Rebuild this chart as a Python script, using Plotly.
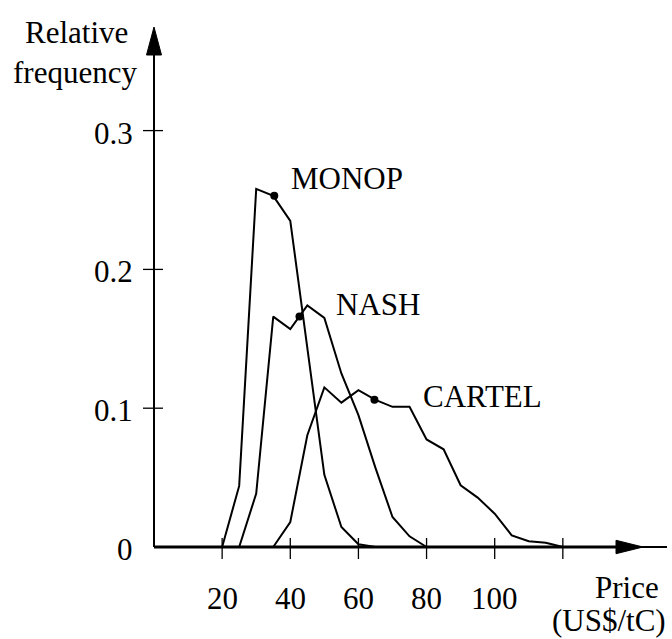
import plotly.graph_objects as go

# ---- data ----
monop_x = [20, 25, 30, 35, 40, 45, 50, 55, 60, 65]
monop_y = [0, 0.044, 0.258, 0.253, 0.235, 0.143, 0.052, 0.0144, 0.002, 0]

nash_x = [25, 30, 35, 40, 45, 50, 55, 60, 65, 70, 75, 80]
nash_y = [0, 0.0385, 0.166, 0.157, 0.174, 0.165, 0.125, 0.095, 0.057, 0.0216, 0.0077, 0]

cartel_x = [35, 40, 45, 50, 55, 60, 65, 70, 75, 80, 85, 90, 95, 100, 105, 110, 115, 120]
cartel_y = [0, 0.018, 0.0805, 0.115, 0.104, 0.113, 0.106, 0.101, 0.101, 0.0775, 0.0704,
            0.0445, 0.0356, 0.024, 0.0084, 0.0041, 0.003, 0]

series_names = ["MONOP", "NASH", "CARTEL"]
dot_x = [35.3, 42.7, 64.7]
dot_y = [0.253, 0.166, 0.106]
label_x = [39.6, 52.8, 78.4]
label_y = [0.2653, 0.1744, 0.1081]

x_ticks = [20, 40, 60, 80, 100, 120]
x_tick_labels = ["20", "40", "60", "80", "100", ""]
y_ticks = [0, 0.1, 0.2, 0.3]
y_tick_labels = ["0", "0.1", "0.2", "0.3"]

FONT = "Liberation Serif, Times New Roman, serif"
FS = 31
W, H = 672, 639
XS = 3.407          # px per x unit
YS = 1388.0         # px per y unit
X0PX, Y0PX = 154.0, 547.0

x_range = [-X0PX / XS, (W - X0PX) / XS]
y_range = [(Y0PX - H) / YS, Y0PX / YS]

def px2x(p):
    return (p - X0PX) / XS

def px2y(p):
    return (Y0PX - p) / YS

fig = go.Figure()

for xs, ys in [(monop_x, monop_y), (nash_x, nash_y), (cartel_x, cartel_y)]:
    fig.add_trace(go.Scatter(x=xs, y=ys, mode="lines",
                             line=dict(color="black", width=2), hoverinfo="skip"))

fig.add_trace(go.Scatter(x=dot_x, y=dot_y, mode="markers",
                         marker=dict(color="black", size=8), hoverinfo="skip"))

shapes = []
# x axis (thick part up to arrow, thin beyond)
arrow_base_x = px2x(616)
arrow_tip_x = px2x(643)
shapes.append(dict(type="line", xref="x", yref="y", x0=0, x1=arrow_base_x, y0=0, y1=0,
                   line=dict(color="black", width=3)))
shapes.append(dict(type="line", xref="x", yref="y", x0=arrow_base_x, x1=px2x(667), y0=0, y1=0,
                   line=dict(color="black", width=2)))
hh = 6.7 / YS
shapes.append(dict(type="path", xref="x", yref="y",
                   path=f"M {arrow_base_x},{hh} L {arrow_tip_x},0 L {arrow_base_x},{-hh} Z",
                   fillcolor="black", line=dict(color="black", width=1)))
# y axis
y_arrow_base = px2y(55)
y_arrow_tip = px2y(27)
shapes.append(dict(type="line", xref="x", yref="y", x0=0, x1=0, y0=0, y1=y_arrow_base,
                   line=dict(color="black", width=2)))
hw = 7.5 / XS
shapes.append(dict(type="path", xref="x", yref="y",
                   path=f"M {-hw},{y_arrow_base} L 0,{y_arrow_tip} L {hw},{y_arrow_base} Z",
                   fillcolor="black", line=dict(color="black", width=1)))
# ticks
for t in x_ticks:
    shapes.append(dict(type="line", xref="x", yref="y", x0=t, x1=t,
                       y0=px2y(538), y1=px2y(559), line=dict(color="black", width=1.3)))
for t in y_ticks[1:]:
    shapes.append(dict(type="line", xref="x", yref="y", x0=px2x(143), x1=px2x(163),
                       y0=t, y1=t, line=dict(color="black", width=1.3)))

annotations = []
for t, lab in zip(x_ticks, x_tick_labels):
    if lab:
        annotations.append(dict(x=t, y=px2y(598.5), text=lab, showarrow=False,
                                xanchor="center", yanchor="middle",
                                font=dict(family=FONT, size=FS, color="black")))
for t, lab in zip(y_ticks, y_tick_labels):
    annotations.append(dict(x=px2x(135), y=t, yshift=-2.5, text=lab, showarrow=False,
                            xanchor="right", yanchor="middle",
                            font=dict(family=FONT, size=FS, color="black")))
for name, lx, ly in zip(series_names, label_x, label_y):
    annotations.append(dict(x=lx, y=ly, text=name, showarrow=False,
                            xanchor="left", yanchor="middle",
                            font=dict(family=FONT, size=FS, color="black")))
annotations.append(dict(x=px2x(76), y=px2y(32), text="Relative", showarrow=False,
                        xanchor="center", yanchor="middle",
                        font=dict(family=FONT, size=FS, color="black")))
annotations.append(dict(x=px2x(75), y=px2y(72.5), text="frequency", showarrow=False,
                        xanchor="center", yanchor="middle",
                        font=dict(family=FONT, size=FS, color="black")))
annotations.append(dict(x=px2x(627), y=px2y(587.5), text="Price", showarrow=False,
                        xanchor="center", yanchor="middle",
                        font=dict(family=FONT, size=FS, color="black")))
annotations.append(dict(x=px2x(609), y=px2y(620.5), text="(US$/tC)", showarrow=False,
                        xanchor="center", yanchor="middle",
                        font=dict(family=FONT, size=FS, color="black")))

fig.update_layout(
    width=W, height=H,
    margin=dict(l=0, r=0, t=0, b=0),
    paper_bgcolor="white", plot_bgcolor="white",
    showlegend=False,
    xaxis=dict(range=x_range, visible=False, fixedrange=True),
    yaxis=dict(range=y_range, visible=False, fixedrange=True),
    shapes=shapes,
    annotations=annotations,
)

fig.write_html("out.html")
